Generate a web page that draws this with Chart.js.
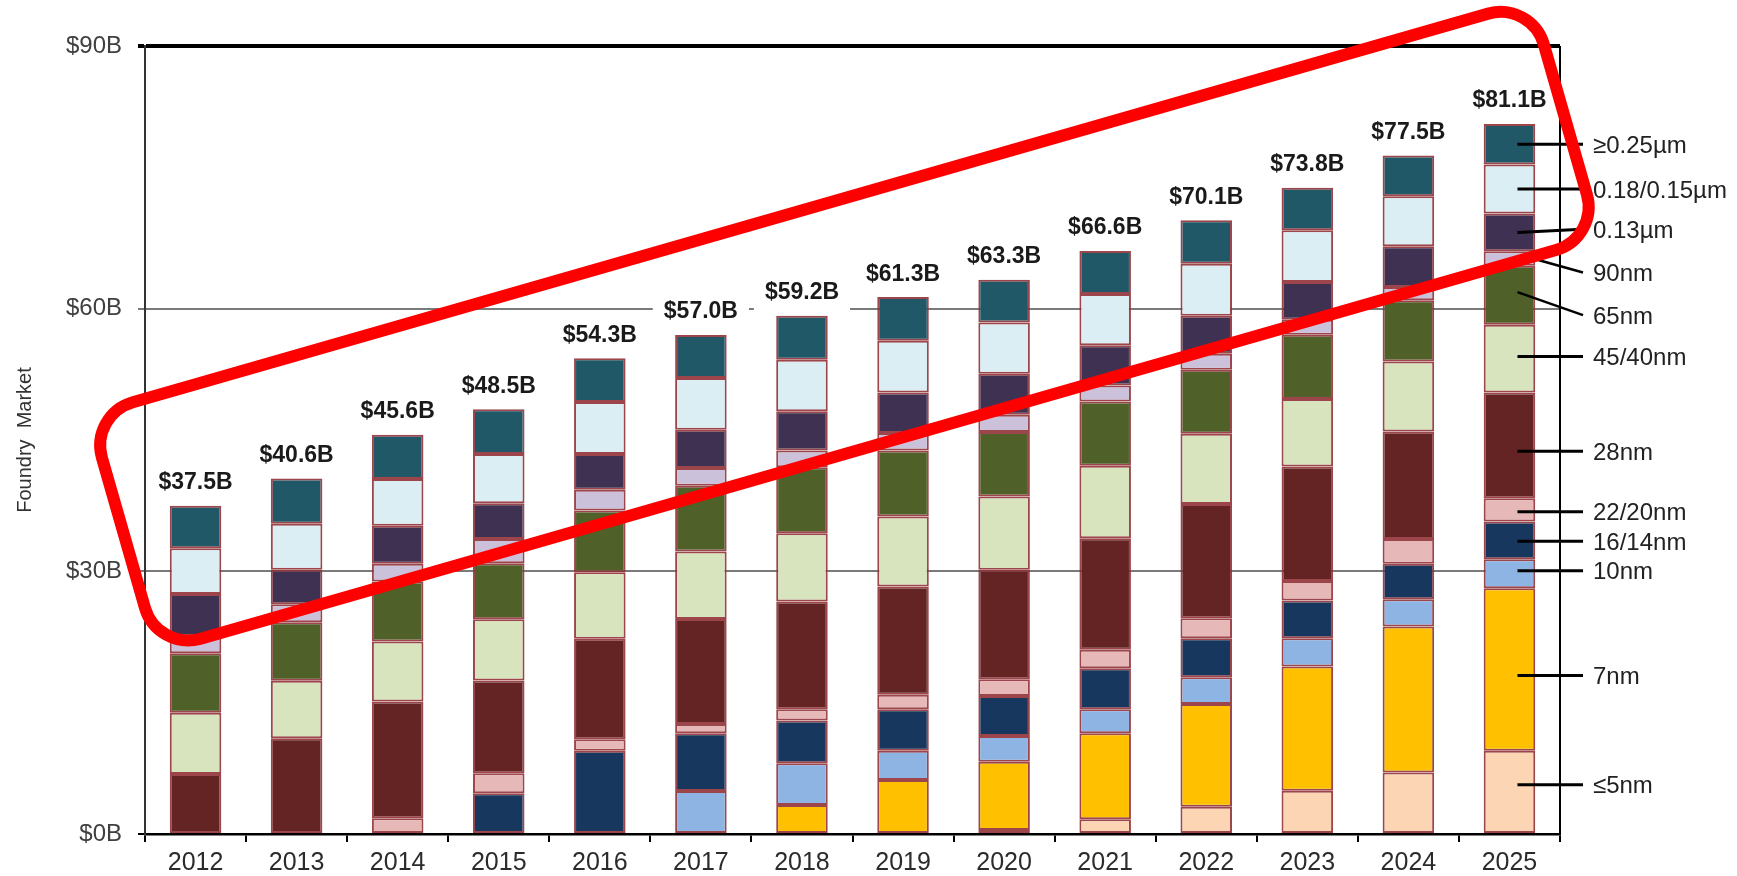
<!DOCTYPE html>
<html>
<head>
<meta charset="utf-8">
<title>Foundry Market by Technology Node</title>
<script src="https://cdn.jsdelivr.net/npm/chart.js@4.4.1/dist/chart.umd.min.js"></script>
<style>
  html, body { margin: 0; padding: 0; background: #fff; }
  #wrap { width: 1737px; height: 876px; }
</style>
</head>
<body>
<div id="wrap"><canvas id="chart" width="1737" height="876"></canvas></div>
<script>
/* ---------------- Data (US$ B) ---------------- */
const years  = ['2012','2013','2014','2015','2016','2017','2018','2019','2020','2021','2022','2023','2024','2025'];
const totals = [37.5, 40.6, 45.6, 48.5, 54.3, 57.0, 59.2, 61.3, 63.3, 66.6, 70.1, 73.8, 77.5, 81.1];
const yTicks = [0, 30, 60, 90];

// stack order: bottom -> top
const nodes = ['≤5nm','7nm','10nm','16/14nm','22/20nm','28nm','45/40nm','65nm','90nm','0.13µm','0.18/0.15µm','≥0.25µm'];

const n5    = [0, 0, 0, 0, 0, 0, 0, 0, 0.46, 1.68, 3.12, 4.95, 7.01, 9.52];
const n7    = [0, 0, 0, 0, 0, 0, 3.31, 6.17, 7.80, 9.82, 11.74, 14.17, 16.68, 18.56];
const n10   = [0, 0, 0, 0, 0, 4.91, 4.77, 3.35, 2.94, 2.75, 3.05, 3.25, 3.13, 3.31];
const n16   = [0, 0, 0, 4.65, 9.52, 6.59, 4.87, 4.73, 4.57, 4.69, 4.46, 4.29, 4.04, 4.30];
const n22   = [0, 0, 1.80, 2.28, 1.30, 1.07, 1.30, 1.64, 1.91, 2.09, 2.28, 2.25, 2.82, 2.67];
const n28   = [6.86, 10.93, 13.33, 10.59, 11.47, 12.00, 12.30, 12.37, 12.49, 12.76, 13.03, 13.07, 12.30, 12.07];
const n45   = [7.00, 6.56, 6.86, 7.01, 7.61, 7.70, 7.81, 8.00, 8.38, 8.27, 8.03, 7.70, 8.00, 7.74];
const n65   = [6.79, 6.70, 6.86, 6.40, 7.05, 7.50, 7.54, 7.55, 7.35, 7.35, 7.32, 7.35, 6.97, 6.74];
const n90   = [1.90, 2.06, 2.02, 2.75, 2.36, 2.02, 1.91, 1.98, 1.99, 1.82, 1.83, 1.71, 1.53, 1.64];
const u013  = [4.85, 3.92, 4.34, 4.11, 4.08, 4.38, 4.46, 4.64, 4.68, 4.58, 4.34, 4.31, 4.64, 4.31];
const u018  = [5.25, 5.26, 5.34, 5.60, 5.94, 5.91, 5.90, 5.91, 5.86, 5.87, 5.94, 5.90, 5.71, 5.60];
const u025  = [4.85, 5.17, 5.06, 5.11, 5.00, 4.92, 5.03, 5.00, 4.87, 4.92, 4.96, 4.85, 4.67, 4.64];

const series = [n5, n7, n10, n16, n22, n28, n45, n65, n90, u013, u018, u025];

/* ---------------- Styles ---------------- */
const nodeColors = ['#fcd5b5','#ffc000','#8eb4e3','#17375e','#e6b9b8','#632423',
                    '#d7e4bd','#4f6128','#ccc1da','#3f3151','#daeef3','#215867'];
const FONT = '"Liberation Sans", Arial, Helvetica, sans-serif';

// small nudges for the leader lines of the right-hand labels (px)
const leaderTweak = {
  '0.13µm': { dy1: -3, endDx: 17 },
  '90nm':   { startDx: 27, dy0: 1, dy1: 14, width: 2.5 },
  '65nm':   { dy0: -3, dy1: 20, width: 2.5 },
  '45/40nm': { dy0: -2, dy1: -2 },
  '28nm':   { dy0: 6, dy1: 6 },
  '22/20nm': { dy0: 2, dy1: 2 },
  '16/14nm': { dy0: 1, dy1: 1 },
  '10nm':   { dy0: -3, dy1: -3 },
  '7nm':    { dy0: 6, dy1: 6 },
  '≤5nm':   { dy0: -7, dy1: -7 }
};

/* ---------------- Plugins ---------------- */
const frameRightPlugin = {
  id: 'frameRight',
  beforeDatasetsDraw(chart) {
    const { ctx, chartArea: a } = chart;
    ctx.save();
    ctx.strokeStyle = '#000';
    ctx.lineWidth = 2;
    ctx.beginPath();
    ctx.moveTo(a.right, a.top);
    ctx.lineTo(a.right, a.bottom);
    ctx.stroke();
    ctx.restore();
  }
};

const totalsPlugin = {
  id: 'totals',
  afterDatasetsDraw(chart) {
    const { ctx, scales: { x, y } } = chart;
    ctx.save();
    ctx.font = 'bold 23px ' + FONT;
    ctx.textAlign = 'center';
    ctx.textBaseline = 'middle';
    totals.forEach((t, i) => {
      const cx = x.getPixelForValue(i);
      const top = y.getPixelForValue(t);
      const txt = '$' + t.toFixed(1) + 'B';
      const w = ctx.measureText(txt).width + 22;
      ctx.fillStyle = '#fff';
      ctx.fillRect(cx - w / 2, top - 45, w, 40);
      ctx.fillStyle = '#1a1a1a';
      ctx.fillText(txt, cx, top - 23);
    });
    ctx.restore();
  }
};

const nodeLabelPlugin = {
  id: 'nodeLabels',
  afterDraw(chart) {
    const { ctx, chartArea: a } = chart;
    const last = years.length - 1;
    ctx.save();
    ctx.font = '24px ' + FONT;
    ctx.textAlign = 'left';
    ctx.textBaseline = 'middle';
    nodes.forEach((name, i) => {
      const bar = chart.getDatasetMeta(i).data[last];
      if (!bar) return;
      const tw = leaderTweak[name] || {};
      const mid = (bar.y + bar.base) / 2;
      const x0 = bar.x + (tw.startDx ?? 8);
      const y0 = mid + (tw.dy0 ?? 0);
      const x1 = a.right + (tw.endDx ?? 23);
      const y1 = mid + (tw.dy1 ?? 0);
      ctx.strokeStyle = '#000';
      ctx.lineWidth = tw.width ?? 3;
      ctx.beginPath();
      ctx.moveTo(x0, y0);
      ctx.lineTo(x1, y1);
      ctx.stroke();
      ctx.fillStyle = '#222';
      ctx.fillText(name, a.right + 33, y1 + 2);
    });
    ctx.restore();
  }
};

const highlightPlugin = {
  id: 'highlight',
  afterDraw(chart) {
    const { ctx, scales: { x, y } } = chart;
    const cx = x.getPixelForValue(6.42);
    const cy = y.getPixelForValue(58.0);
    ctx.save();
    ctx.translate(cx, cy);
    ctx.rotate(-16 * Math.PI / 180);
    ctx.beginPath();
    ctx.roundRect(-750, -123, 1500, 246, 45);
    ctx.lineWidth = 12;
    ctx.strokeStyle = '#ff0000';
    ctx.stroke();
    ctx.restore();
  }
};

/* ---------------- Chart ---------------- */
Chart.defaults.font.family = FONT;

const datasets = series.map((arr, i) => ({
  label: nodes[i],
  data: arr.map(v => (v > 0 ? v : null)),
  backgroundColor: nodeColors[i],
  borderColor: 'rgba(145,50,55,0.9)',
  borderWidth: 2,
  borderSkipped: false,
  barPercentage: 0.51,
  categoryPercentage: 1
}));

new Chart(document.getElementById('chart').getContext('2d'), {
  type: 'bar',
  data: { labels: years, datasets },
  options: {
    responsive: false,
    animation: false,
    devicePixelRatio: 1,
    layout: { padding: { top: 46, right: 177, left: 0, bottom: 0 } },
    plugins: {
      legend: { display: false },
      tooltip: { enabled: false }
    },
    scales: {
      x: {
        stacked: true,
        afterFit: (s) => { s.height = 42; },
        grid: { display: true, offset: true, drawOnChartArea: false, drawTicks: true,
                tickLength: 8, color: '#000', lineWidth: 2 },
        border: { color: '#000', width: 2.5 },
        ticks: { color: '#2b2b2b', font: { size: 25 }, padding: 6, maxRotation: 0 }
      },
      y: {
        stacked: true,
        min: 0,
        max: 90,
        afterFit: (s) => { s.width = 145; },
        afterBuildTicks: (s) => { s.ticks = yTicks.map(v => ({ value: v })); },
        grid: {
          color: (c) => (c.tick && (c.tick.value === 90 || c.tick.value === 0)) ? '#000' : '#7a7a7a',
          lineWidth: (c) => (c.tick && c.tick.value === 90) ? 4 : 2,
          tickLength: 7
        },
        border: { color: '#333', width: 2 },
        ticks: {
          color: '#404040',
          font: { size: 24 },
          padding: 16,
          callback: (v) => '$' + v + 'B'
        },
        title: {
          display: true,
          text: 'Foundry  Market',
          color: '#333',
          font: { size: 20 },
          padding: { top: 13, bottom: 0 }
        }
      }
    }
  },
  plugins: [frameRightPlugin, totalsPlugin, nodeLabelPlugin, highlightPlugin]
});
</script>
</body>
</html>
